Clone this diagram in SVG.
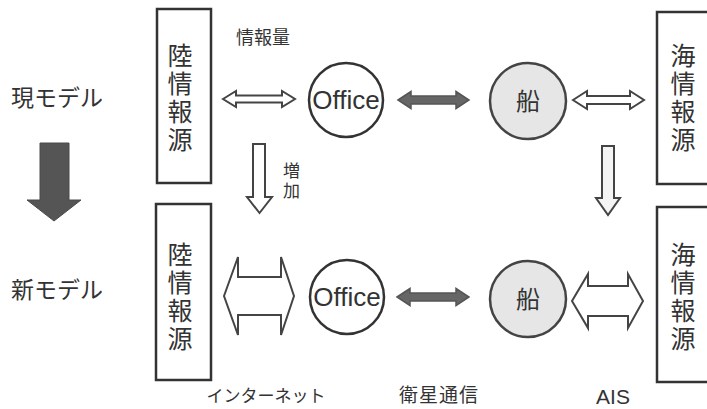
<svg xmlns="http://www.w3.org/2000/svg" width="707" height="409" viewBox="0 0 707 409">
<style>
.t{font-family:"Noto Sans CJK JP","Liberation Sans",sans-serif;fill:#333}
.l{font-family:"Liberation Sans","Noto Sans CJK JP",sans-serif;fill:#333}
.box{fill:#fff;stroke:#333;stroke-width:2.5}
.circ{fill:#fff;stroke:#333;stroke-width:2.5}
.ship{fill:#e6e6e6;stroke:#444;stroke-width:2.5}
.hollow{fill:#fff;stroke:#444;stroke-width:2;stroke-linejoin:miter}
.dark{fill:#666;stroke:#555;stroke-width:1.5}
.vt{font-size:25px;text-anchor:middle}
</style>
<rect width="707" height="409" fill="#fff"/>

<g id="label-current"><text class="t" x="11" y="106" font-size="23">現モデル</text></g>
<g id="label-new"><text class="t" x="11" y="298" font-size="23">新モデル</text></g>
<g id="label-infoamount"><text class="t" x="236" y="44" font-size="18">情報量</text></g>
<g id="label-increase"><text class="l" x="283" y="177" font-size="17">増</text><text class="l" x="283" y="197" font-size="17">加</text></g>
<g id="label-internet"><text class="t" x="266" y="402" font-size="17" text-anchor="middle">インターネット</text></g>
<g id="label-satellite"><text class="t" x="439" y="402" font-size="19" text-anchor="middle" letter-spacing="1">衛星通信</text></g>
<g id="label-ais"><text class="l" x="613" y="404" font-size="21" text-anchor="middle">AIS</text></g>

<g id="land-top">
<rect class="box" x="157" y="9" width="54" height="174"/>
<text class="l vt" x="180" y="65">陸</text><text class="l vt" x="180" y="93">情</text><text class="l vt" x="180" y="121">報</text><text class="l vt" x="180" y="149">源</text>
</g>
<g id="land-bottom">
<rect class="box" x="156" y="204" width="55" height="176"/>
<text class="l vt" x="180" y="264">陸</text><text class="l vt" x="180" y="292">情</text><text class="l vt" x="180" y="320">報</text><text class="l vt" x="180" y="348">源</text>
</g>
<g id="sea-top">
<rect class="box" x="657" y="12" width="60" height="172"/>
<text class="l vt" x="683" y="65">海</text><text class="l vt" x="683" y="93">情</text><text class="l vt" x="683" y="121">報</text><text class="l vt" x="683" y="149">源</text>
</g>
<g id="sea-bottom">
<rect class="box" x="657" y="207" width="60" height="175"/>
<text class="l vt" x="683" y="264">海</text><text class="l vt" x="683" y="292">情</text><text class="l vt" x="683" y="320">報</text><text class="l vt" x="683" y="348">源</text>
</g>
<g id="office-top">
<circle class="circ" cx="346" cy="100" r="37"/>
<text class="l" x="346" y="109" font-size="26" text-anchor="middle">Office</text>
</g>
<g id="office-bottom">
<circle class="circ" cx="347" cy="297" r="37"/>
<text class="l" x="347" y="306" font-size="26" text-anchor="middle">Office</text>
</g>
<g id="ship-top">
<circle class="ship" cx="528" cy="101" r="38"/>
<text class="t" x="528" y="110" font-size="24" text-anchor="middle">船</text>
</g>
<g id="ship-bottom">
<circle class="ship" cx="528" cy="299" r="38"/>
<text class="t" x="528" y="308" font-size="24" text-anchor="middle">船</text>
</g>

<g id="connectors">
<path class="hollow" d="M223,99 L236,91 L236,95.5 L282,95.5 L282,91 L295,99 L282,107 L282,102.5 L236,102.5 L236,107 Z"/>
<path class="dark" d="M398,100 L411,91.5 L411,96 L456,96 L456,91.5 L469,100 L456,108.5 L456,104 L411,104 L411,108.5 Z"/>
<path class="hollow" d="M573,100 L587,91 L587,96 L630,96 L630,91 L644,100 L630,109 L630,104 L587,104 L587,109 Z"/>
<path class="hollow" d="M224,296 L238,257 L238,277 L281,277 L281,257 L294,296 L281,335 L281,315 L238,315 L238,335 Z"/>
<path class="dark" d="M397,297 L410,288.5 L410,293 L456,293 L456,288.5 L469,297 L456,305.5 L456,301 L410,301 L410,305.5 Z"/>
<path class="hollow" d="M572,301 L588,274 L588,286 L628,286 L628,274 L643,301 L628,328 L628,316 L588,316 L588,328 Z"/>
<path class="hollow" d="M253,144 L265,144 L265,197 L272,197 L259.5,213 L247,197 L253,197 Z"/>
<path class="hollow" d="M602,146 L614,146 L614,198 L620,198 L608,215 L596,198 L602,198 Z" style="fill:#f4f4f4"/>
<path d="M40,143 L69,143 L69,200 L81,200 L54,221 L27,200 L40,200 Z" fill="#555" stroke="#4a4a4a" stroke-width="1"/>
</g>
</svg>
